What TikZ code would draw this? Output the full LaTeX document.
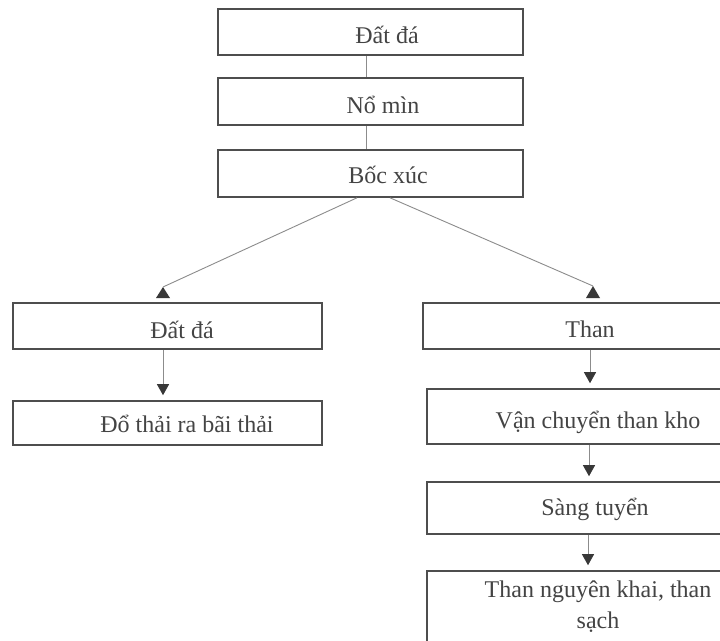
\documentclass[tikz,border=0pt]{standalone}
\usepackage{fontspec}
\setmainfont{Liberation Serif}
\usetikzlibrary{arrows.meta}
\definecolor{boxgray}{HTML}{4E4E4E}
\definecolor{linegray}{HTML}{8C8C8C}
\definecolor{tipgray}{HTML}{383838}
\definecolor{txtgray}{HTML}{444444}
\tikzset{
  stepbox/.style={draw=boxgray, line width=1.6pt, rectangle, inner sep=0pt},
  lbl/.style={text=txtgray, inner sep=0pt, anchor=base, font=\fontsize{24}{31}\selectfont},
  conn/.style={draw=linegray, line width=0.9pt},
  arr/.style={conn, -{Triangle[width=12pt,length=11pt,color=tipgray]}, shorten >=5pt},
}
\begin{document}
\begin{tikzpicture}[x=1pt,y=-1pt]
\useasboundingbox (0,0) rectangle (720,640);
\clip (0,0) rectangle (720,640);
\fill[white] (0,0) rectangle (720,640);

% top column
\node[stepbox, minimum width=305pt, minimum height=46pt] (t1) at (370.5,32) {};
\node[stepbox, minimum width=305pt, minimum height=47pt] (t2) at (370.5,101.5) {};
\node[stepbox, minimum width=305pt, minimum height=47pt] (t3) at (370.5,173.5) {};
\node[lbl] (t1l) at (387,43) {Đất đá};
\node[lbl] (t2l) at (383,113) {Nổ mìn};
\node[lbl] (t3l) at (388,183) {Bốc xúc};

% left column
\node[stepbox, minimum width=309pt, minimum height=46pt] (L1) at (167.5,326) {};
\node[stepbox, minimum width=309pt, minimum height=44pt] (L2) at (167.5,423) {};
\node[lbl] (L1l) at (182,338) {Đất đá};
\node[lbl] (L2l) at (187,432) {Đổ thải ra bãi thải};

% right column
\node[stepbox, minimum width=334pt, minimum height=46pt] (R1) at (590,326) {};
\node[stepbox, minimum width=330pt, minimum height=55pt] (R2) at (592,416.5) {};
\node[stepbox, minimum width=330pt, minimum height=52pt] (R3) at (592,508) {};
\node[stepbox, minimum width=330pt, minimum height=109pt] (R4) at (592,625.5) {};
\node[lbl] (R1l) at (590,337) {Than};
\node[lbl] (R2l) at (598,428) {Vận chuyển than kho};
\node[lbl] (R3l) at (595,515) {Sàng tuyển};
\node[lbl, anchor=north, align=center] (R4l) at (598,580.5) {Than nguyên khai, than\\sạch};

% connectors in the top column
\draw[conn] ([xshift=-4.5pt]t1.south) -- ([xshift=-4.5pt]t2.north);
\draw[conn] ([xshift=-4.5pt]t2.south) -- ([xshift=-4.5pt]t3.north);

% diagonal branches
\coordinate (lApex) at (163,287);
\coordinate (rApex) at (593,286);
\draw[conn] ([xshift=-13.5pt]t3.south) -- (lApex);
\draw[conn] ([xshift=19.5pt]t3.south) -- (rApex);
\fill[tipgray] (lApex) -- ++(-7,11) -- ++(14,0) -- cycle;
\fill[tipgray] (rApex) -- ++(-7,12) -- ++(14,0) -- cycle;

% vertical arrows
\draw[arr] ([xshift=-4.5pt]L1.south) -- ([xshift=-4.5pt]L2.north);
\draw[arr] (R1.south) -- ([xshift=-2pt]R2.north);
\draw[arr] ([xshift=-3pt]R2.south) -- ([xshift=-3pt]R3.north);
\draw[arr] ([xshift=-4pt]R3.south) -- ([xshift=-4pt]R4.north);
\end{tikzpicture}
\end{document}
